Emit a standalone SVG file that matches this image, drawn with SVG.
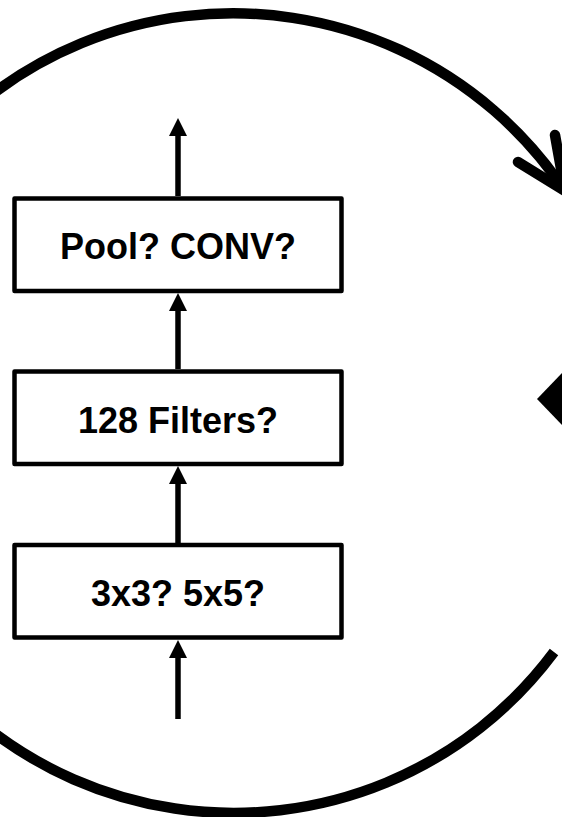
<svg xmlns="http://www.w3.org/2000/svg" width="562" height="817" viewBox="0 0 562 817">
  <style>
    .box { fill: #fff; stroke: #000; stroke-width: 4.5; stroke-linejoin: round; }
    .label { font-family: "Liberation Sans", Arial, sans-serif; font-weight: bold; font-size: 36px; fill: #000; text-anchor: middle; }
    .flow { stroke: #000; stroke-width: 5.5; fill: none; }
    .loop { stroke: #000; stroke-width: 10.5; fill: none; }
  </style>
  <defs>
    <marker id="head" markerUnits="userSpaceOnUse" markerWidth="18" markerHeight="18" refX="0" refY="9" orient="auto" overflow="visible">
      <path d="M0,0 L18,9 L0,18 Z" fill="#000"/>
    </marker>
  </defs>
  <rect width="562" height="817" fill="#fff"/>

  <!-- outer loop around the layer stack -->
  <g id="loop">
    <path class="loop" d="M -142 276 A 399 399 0 0 1 565 191"/>
    <polyline class="loop" stroke-linecap="round" stroke-linejoin="round" points="555,135 565,191 518,162"/>
    <path class="loop" d="M 554 652 A 399 399 0 0 1 -142 548"/>
    <polygon points="537,399 562,373 562,425" fill="#000"/>
  </g>

  <!-- vertical data flow -->
  <g id="connectors">
    <line class="flow" x1="178" y1="196" x2="178" y2="136" marker-end="url(#head)"/>
    <line class="flow" x1="178" y1="369" x2="178" y2="311" marker-end="url(#head)"/>
    <line class="flow" x1="178" y1="543" x2="178" y2="484" marker-end="url(#head)"/>
    <line class="flow" x1="178" y1="719" x2="178" y2="658" marker-end="url(#head)"/>
  </g>

  <g id="node-pool">
    <rect class="box" x="14.5" y="198.5" width="327" height="92.5"/>
    <text class="label" x="178" y="259">Pool? CONV?</text>
  </g>
  <g id="node-filters">
    <rect class="box" x="14.5" y="371.5" width="327" height="92.5"/>
    <text class="label" x="178" y="433">128 Filters?</text>
  </g>
  <g id="node-kernel">
    <rect class="box" x="14.5" y="545" width="327" height="92.5"/>
    <text class="label" x="178" y="606">3x3? 5x5?</text>
  </g>
</svg>
